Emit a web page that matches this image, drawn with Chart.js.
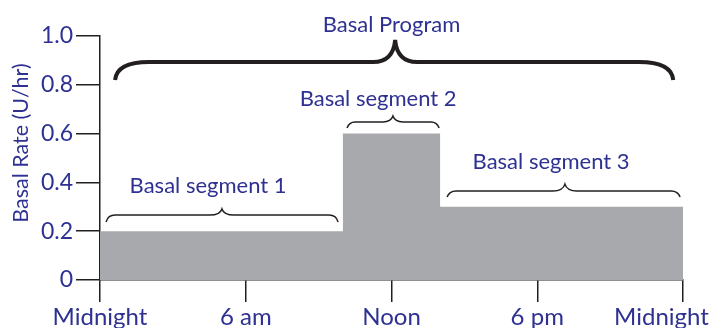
<!DOCTYPE html>
<html>
<head>
<meta charset="utf-8">
<script src="https://cdn.jsdelivr.net/npm/chart.js@4.4.0/dist/chart.umd.min.js"></script>
<style>
	body { margin: 0; background: #fff; }
	#wrap { width: 715px; height: 328px; }
</style>
</head>
<body>
<div id="wrap"><canvas id="basalChart" width="715" height="328"></canvas></div>
<script>
// hours of day where each segment starts, and the rate (U/hr) it holds
const segmentStart = [0, 10, 14];
const segmentRate = [0.2, 0.6, 0.3];
const dayEnd = 24;

const hourTicks = [0, 6, 12, 18, 24];
const hourLabels = ['Midnight', '6 am', 'Noon', '6 pm', 'Midnight'];
const rateTicks = [0, 0.2, 0.4, 0.6, 0.8, 1.0];
const rateLabels = ['0', '0.2', '0.4', '0.6', '0.8', '1.0'];

const segmentNames = ['Basal segment 1', 'Basal segment 2', 'Basal segment 3'];

const navy = '#2e3192';
const ink = '#231f20';
const fontFamily = 'Lato, "Noto Sans", sans-serif';

// braces and their captions, in hours / rate units
const braces = [
	{ text: 'Basal Program', x1: 0.62, x2: 23.6, peak: 12.15, end: 0.82, line: 0.893, top: 0.984, tx: 12.0, ty: 1.016, width: 4, r: 34, p: 22 },
	{ text: segmentNames[0], x1: 0.25, x2: 9.8, peak: 5.02, end: 0.238, line: 0.266, top: 0.291, tx: 4.45, ty: 0.357, width: 1.5, r: 9, p: 12 },
	{ text: segmentNames[1], x1: 10.17, x2: 13.96, peak: 12.06, end: 0.623, line: 0.648, top: 0.672, tx: 11.45, ty: 0.713, width: 1.5, r: 8, p: 10 },
	{ text: segmentNames[2], x1: 14.29, x2: 23.88, peak: 19.14, end: 0.34, line: 0.365, top: 0.393, tx: 18.57, ty: 0.455, width: 1.5, r: 9, p: 12 },
];

const points = segmentStart.map((h, i) => ({ x: h, y: segmentRate[i] }));
points.push({ x: dayEnd, y: segmentRate[segmentRate.length - 1] });

function drawBrace(ctx, b, xs, ys) {
	const x1 = xs.getPixelForValue(b.x1);
	const x2 = xs.getPixelForValue(b.x2);
	const xp = xs.getPixelForValue(b.peak);
	const yEnd = ys.getPixelForValue(b.end);
	const yLine = ys.getPixelForValue(b.line);
	const yTop = ys.getPixelForValue(b.top);
	ctx.beginPath();
	ctx.moveTo(x1, yEnd);
	ctx.quadraticCurveTo(x1 + 2, yLine, x1 + b.r, yLine);
	ctx.lineTo(xp - b.p, yLine);
	ctx.quadraticCurveTo(xp - 2, yLine, xp, yTop);
	ctx.quadraticCurveTo(xp + 2, yLine, xp + b.p, yLine);
	ctx.lineTo(x2 - b.r, yLine);
	ctx.quadraticCurveTo(x2 - 2, yLine, x2, yEnd);
	ctx.lineWidth = b.width;
	ctx.strokeStyle = ink;
	ctx.stroke();
}

const bracePlugin = {
	id: 'braces',
	afterDraw(chart) {
		const ctx = chart.ctx;
		const xs = chart.scales.x;
		const ys = chart.scales.y;
		ctx.save();
		ctx.lineCap = 'butt';
		braces.forEach((b) => {
			drawBrace(ctx, b, xs, ys);
			ctx.fillStyle = navy;
			ctx.font = '22px ' + fontFamily;
			ctx.textAlign = 'center';
			ctx.textBaseline = 'alphabetic';
			ctx.fillText(b.text, xs.getPixelForValue(b.tx), ys.getPixelForValue(b.ty));
		});
		// axis title
		ctx.translate(28, 143);
		ctx.rotate(-Math.PI / 2);
		ctx.font = '21.5px ' + fontFamily;
		ctx.fillText('Basal Rate (U/hr)', 0, 0);
		ctx.restore();
	},
};

new Chart(document.getElementById('basalChart'), {
	type: 'line',
	data: {
		datasets: [{
			label: 'Basal rate',
			data: points,
			stepped: 'before',
			fill: 'origin',
			backgroundColor: '#a7a9ac',
			borderWidth: 0,
			borderColor: '#a7a9ac',
			pointRadius: 0,
		}],
	},
	options: {
		responsive: false,
		animation: false,
		layout: { padding: { top: 36, right: 32, left: 0, bottom: 0 } },
		plugins: {
			legend: { display: false },
			tooltip: { enabled: false },
		},
		scales: {
			x: {
				type: 'linear',
				min: 0,
				max: dayEnd,
				afterBuildTicks: (scale) => { scale.ticks = hourTicks.map((v) => ({ value: v })); },
				afterFit: (scale) => {
					scale.height = 48;
					scale.paddingLeft = 0;
					scale.paddingRight = 0;
				},
				ticks: {
					autoSkip: false,
					maxRotation: 0,
					padding: 1,
					color: navy,
					font: { family: fontFamily, size: 24 },
					callback: (v) => {
						const label = hourLabels[hourTicks.indexOf(v)];
						// last label sits a little left of its tick, as in the print
						return v === dayEnd ? label + '       ' : label;
					},
				},
				grid: { drawOnChartArea: false, drawTicks: true, tickLength: 22, color: ink, lineWidth: 1.5 },
				border: { color: ink, width: 1.5 },
			},
			y: {
				min: 0,
				max: 1,
				afterBuildTicks: (scale) => { scale.ticks = rateTicks.map((v) => ({ value: v })); },
				afterFit: (scale) => { scale.width = 100; },
				ticks: {
					padding: 3,
					color: navy,
					font: { family: fontFamily, size: 23 },
					callback: (v) => rateLabels[rateTicks.indexOf(v)],
				},
				grid: { drawOnChartArea: false, drawTicks: true, tickLength: 24, color: ink, lineWidth: 1.5 },
				border: { color: ink, width: 1.5 },
			},
		},
	},
	plugins: [bracePlugin],
});
</script>
</body>
</html>
